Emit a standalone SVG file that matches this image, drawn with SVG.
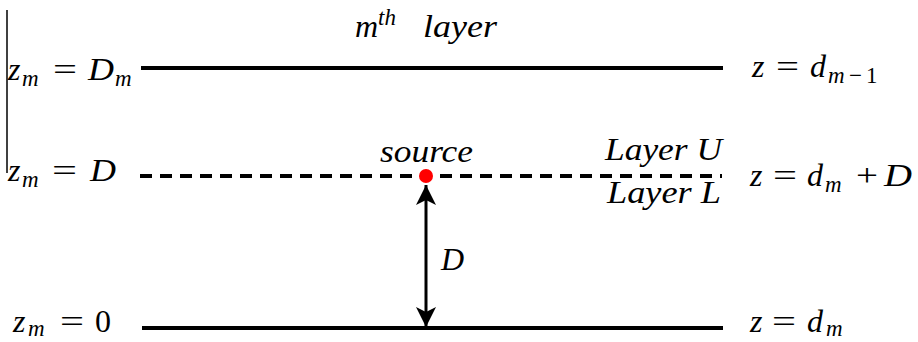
<svg xmlns="http://www.w3.org/2000/svg" width="918" height="342" viewBox="0 0 918 342">
<style>
text{font-family:"Liberation Serif","DejaVu Serif",serif;font-size:32px;fill:#000}
.i{font-style:italic}
.s{font-size:23px;font-style:italic}
.sr{font-size:23px}
.line{stroke:#000;stroke-width:4;fill:none}
.dash{stroke:#000;stroke-width:4;stroke-dasharray:12 8;fill:none}
</style>
<defs>
<marker id="ah" viewBox="0 0 20 20" refX="20" refY="10" markerWidth="20" markerHeight="21" markerUnits="userSpaceOnUse" orient="auto-start-reverse">
<path d="M0,0 L20,10 L0,20 L5,10 Z" fill="#000"/>
</marker>
</defs>
<rect width="918" height="342" fill="#fff"/>
<line x1="7" y1="10" x2="7" y2="173" stroke="#000" stroke-width="1.5"/>
<g id="layer-top">
<line class="line" x1="141" y1="68" x2="723" y2="68"/>
<text y="80"><tspan class="i" x="8">z</tspan><tspan class="s" x="22" dy="6">m</tspan><tspan x="53" dy="-6" textLength="24" lengthAdjust="spacingAndGlyphs">=</tspan><tspan class="i" x="88" textLength="26" lengthAdjust="spacingAndGlyphs">D</tspan><tspan class="s" x="115" dy="6">m</tspan></text>
<text y="77"><tspan class="i" x="752">z</tspan><tspan x="776" textLength="23" lengthAdjust="spacingAndGlyphs">=</tspan><tspan class="i" x="810">d</tspan><tspan class="s" x="828" dy="6">m</tspan><tspan class="sr" x="849">−</tspan><tspan class="sr" x="866">1</tspan></text>
<text y="37"><tspan class="i" x="355">m</tspan><tspan class="s" x="378" dy="-12">th</tspan><tspan class="i" x="423" dy="12" textLength="74" lengthAdjust="spacingAndGlyphs">layer</tspan></text>
</g>
<g id="source-plane">
<line class="dash" x1="140" y1="176" x2="722" y2="176"/>
<text y="181"><tspan class="i" x="8">z</tspan><tspan class="s" x="22" dy="6">m</tspan><tspan x="52" dy="-6" textLength="25" lengthAdjust="spacingAndGlyphs">=</tspan><tspan class="i" x="90" textLength="26" lengthAdjust="spacingAndGlyphs">D</tspan></text>
<text y="186"><tspan class="i" x="750">z</tspan><tspan x="773" textLength="24" lengthAdjust="spacingAndGlyphs">=</tspan><tspan class="i" x="807">d</tspan><tspan class="s" x="825" dy="6">m</tspan><tspan x="856" dy="-6" textLength="22" lengthAdjust="spacingAndGlyphs">+</tspan><tspan class="i" x="884" textLength="28" lengthAdjust="spacingAndGlyphs">D</tspan></text>
<text class="i" x="605" y="160" textLength="117" lengthAdjust="spacingAndGlyphs">Layer U</text>
<text class="i" x="607" y="203" textLength="114" lengthAdjust="spacingAndGlyphs">Layer L</text>
</g>
<g id="source">
<circle cx="426" cy="176" r="7" fill="#ff0000"/>
<text class="i" x="380" y="162" textLength="93" lengthAdjust="spacingAndGlyphs">source</text>
</g>
<g id="layer-bottom">
<line class="line" x1="142" y1="328" x2="723" y2="328"/>
<text y="332"><tspan class="i" x="13">z</tspan><tspan class="s" x="28" dy="4">m</tspan><tspan x="60" dy="-4" textLength="24" lengthAdjust="spacingAndGlyphs">=</tspan><tspan x="95">0</tspan></text>
<text y="332"><tspan class="i" x="750">z</tspan><tspan x="772" textLength="24" lengthAdjust="spacingAndGlyphs">=</tspan><tspan class="i" x="807">d</tspan><tspan class="s" x="826" dy="4">m</tspan></text>
</g>
<g id="connectors">
<line x1="426" y1="185" x2="426" y2="327" stroke="#000" stroke-width="3" marker-start="url(#ah)" marker-end="url(#ah)"/>
<text class="i" x="441" y="270">D</text>
</g>
</svg>
